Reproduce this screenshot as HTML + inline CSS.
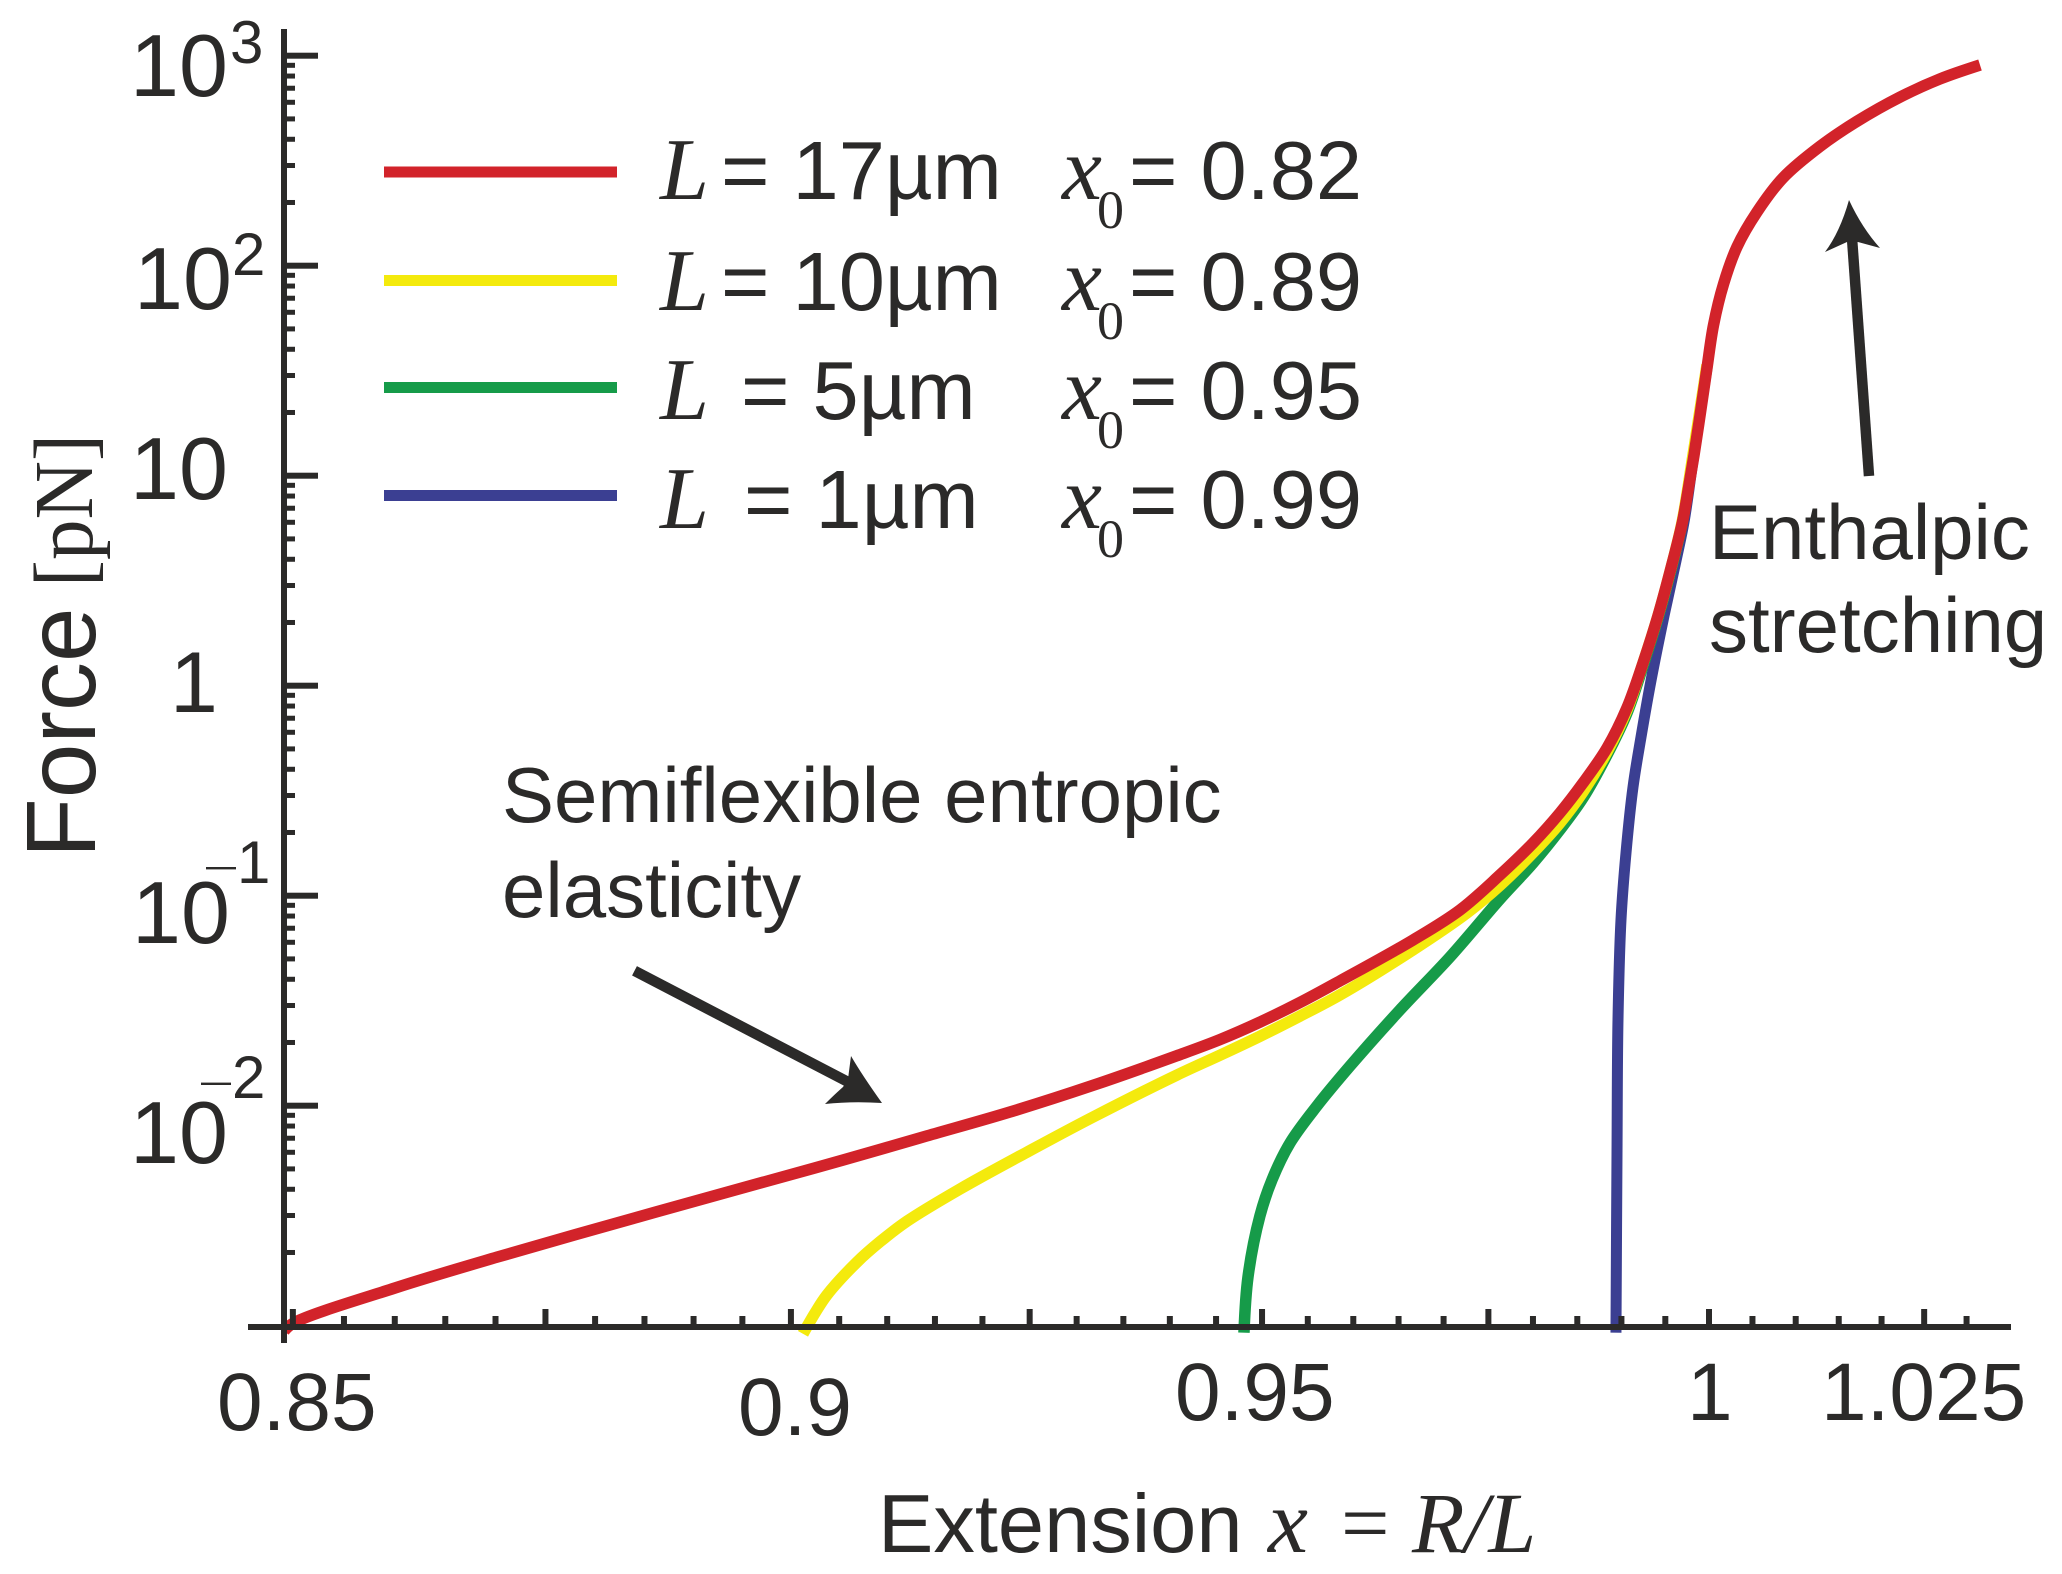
<!DOCTYPE html>
<html lang="en">
<head>
<meta charset="utf-8">
<title>Force versus extension</title>
<style>
html,body{margin:0;padding:0;background:#fff;}
svg{display:block;}
text{fill:#2b2a29;font-family:"Liberation Sans",sans-serif;}
.serif{font-family:"Liberation Serif",serif;}
.it{font-family:"Liberation Serif",serif;font-style:italic;}
</style>
</head>
<body>
<svg id="chart" xmlns="http://www.w3.org/2000/svg" width="2062" height="1574" viewBox="0 0 2062 1574">
  <rect x="0" y="0" width="2062" height="1574" fill="#ffffff"/>
  <g id="curves"></g>
  <g id="axes"></g>

  <g>
    <text x="130" y="96" font-size="88">10</text>
    <text x="230" y="63" font-size="60">3</text>
    <text x="134" y="309" font-size="88">10</text>
    <text x="232" y="275" font-size="60">2</text>
    <text x="130" y="499" font-size="88">10</text>
    <text x="170" y="712" font-size="86">1</text>
    <text x="132" y="943" font-size="88">10</text>
    <rect x="206" y="867" width="30" height="2.4" fill="#2b2a29"/>
    <text x="237" y="883" font-size="60">1</text>
    <text x="130" y="1163" font-size="88">10</text>
    <rect x="201" y="1082.6" width="30" height="2.4" fill="#2b2a29"/>
    <text x="232" y="1098" font-size="60">2</text>
  </g>

  <g>
    <text x="217" y="1430" font-size="82">0.85</text>
    <text x="738" y="1435" font-size="82">0.9</text>
    <text x="1175" y="1420" font-size="82">0.95</text>
    <text x="1687" y="1420" font-size="82">1</text>
    <text x="1821" y="1420" font-size="82">1.025</text>
  </g>

  <g>
    <text x="878" y="1552" font-size="83">Extension</text>
    <text class="it" x="1268" y="1552" font-size="90">x</text>
    <text class="serif" x="1341" y="1552" font-size="86">=</text>
    <text class="it" x="1412" y="1552" font-size="86">R/L</text>
  </g>

  <g>
    <text transform="translate(95,858) rotate(-90)" font-size="98">Force</text>
    <text class="serif" transform="translate(92,587) rotate(-90)" font-size="84" textLength="153" lengthAdjust="spacingAndGlyphs">[pN]</text>
  </g>

  <g>
    <rect x="384" y="166.5" width="233" height="11" fill="#d2232a"/>
    <rect x="384" y="275" width="233" height="11" fill="#f4ea0d"/>
    <rect x="384" y="382" width="233" height="11" fill="#169b49"/>
    <rect x="384" y="490" width="233" height="11" fill="#3b3f92"/>

    <text class="it" x="660" y="199" font-size="88">L</text>
    <text x="721" y="199" font-size="83">= 17µm</text>
    <text class="it" x="1062" y="199" font-size="90">x</text>
    <text class="serif" x="1097" y="228" font-size="54">0</text>
    <text x="1129" y="199" font-size="83">= 0.82</text>

    <text class="it" x="660" y="310" font-size="88">L</text>
    <text x="721" y="310" font-size="83">= 10µm</text>
    <text class="it" x="1062" y="310" font-size="90">x</text>
    <text class="serif" x="1097" y="339" font-size="54">0</text>
    <text x="1129" y="310" font-size="83">= 0.89</text>

    <text class="it" x="660" y="419" font-size="88">L</text>
    <text x="741" y="419" font-size="83">= 5µm</text>
    <text class="it" x="1062" y="419" font-size="90">x</text>
    <text class="serif" x="1097" y="448" font-size="54">0</text>
    <text x="1129" y="419" font-size="83">= 0.95</text>

    <text class="it" x="660" y="528" font-size="88">L</text>
    <text x="744" y="528" font-size="83">= 1µm</text>
    <text class="it" x="1062" y="528" font-size="90">x</text>
    <text class="serif" x="1097" y="557" font-size="54">0</text>
    <text x="1129" y="528" font-size="83">= 0.99</text>
  </g>

  <g>
    <text x="502" y="822" font-size="78">Semiflexible entropic</text>
    <text x="502" y="917" font-size="78">elasticity</text>
    <text x="1709" y="559" font-size="78">Enthalpic</text>
    <text x="1709" y="652" font-size="78">stretching</text>
    <g>
      <line x1="634.5" y1="970.8" x2="852" y2="1084" stroke="#2b2a29" stroke-width="10.5"/>
      <path d="M882 1103 Q862 1075 851 1056 L848 1079 L843 1087 Q835 1094 825 1104 Q852 1101 882 1103 Z" fill="#2b2a29"/>
    </g>
    <g>
      <line x1="1869" y1="476" x2="1852" y2="238" stroke="#2b2a29" stroke-width="10.5"/>
      <path d="M1849 200 Q1840 232 1825 252 L1847 242 L1858 242 L1880 248 Q1862 228 1849 200 Z" fill="#2b2a29"/>
    </g>
  </g>
</svg>

<script>
const xMajorTicks = [0.85, 0.875, 0.9, 0.925, 0.95, 0.975, 1, 1.025];
const xMinorTicks = [0.855, 0.86, 0.865, 0.87, 0.88, 0.885, 0.89, 0.895, 0.905, 0.91, 0.915, 0.92, 0.93, 0.935, 0.94, 0.945, 0.955, 0.96, 0.965, 0.97, 0.98, 0.985, 0.99, 0.995, 1.005, 1.01, 1.015, 1.02, 1.03];
const yMajorTicks = [1000, 100, 10, 1, 0.1, 0.01];
const yMinorTicks = [900, 800, 700, 600, 500, 400, 300, 200, 90, 80, 70, 60, 50, 40, 30, 20, 9, 8, 7, 6, 5, 4, 3, 2, 0.9, 0.8, 0.7, 0.6, 0.5, 0.4, 0.3, 0.2, 0.09, 0.08, 0.07, 0.06, 0.05, 0.04, 0.03, 0.02, 0.009, 0.008, 0.007, 0.006, 0.005, 0.004, 0.003, 0.002];

const blueExtension = [0.98938, 0.98950, 0.98961, 0.98995, 0.99052, 0.99132, 0.99223, 0.99337, 0.99485, 0.99622, 0.99714, 0.99805, 0.99880, 0.99966];
const blueForce = [0.00083, 0.00612, 0.0256, 0.0766, 0.160, 0.330, 0.570, 1.06, 2.15, 3.93, 6.03, 10.9, 17.7, 31.2];

const greenExtension = [0.94803, 0.94847, 0.94977, 0.95109, 0.95305, 0.95601, 0.95964, 0.96516, 0.97072, 0.97630, 0.98000, 0.98304, 0.98564, 0.98836, 0.99063, 0.99245, 0.99416, 0.99553, 0.99691, 0.99817, 0.99977];
const greenForce = [0.00083, 0.00153, 0.00299, 0.00444, 0.00664, 0.00998, 0.01545, 0.0286, 0.0511, 0.0964, 0.143, 0.206, 0.292, 0.468, 0.741, 1.24, 2.10, 3.40, 5.9, 12.3, 33];

const yellowExtension = [0.90125, 0.90249, 0.90373, 0.90685, 0.90925, 0.91208, 0.91763, 0.92472, 0.93175, 0.94077, 0.94543, 0.94977, 0.95414, 0.95854, 0.96660, 0.97261, 0.97630, 0.98000, 0.98304, 0.98564, 0.98836, 0.99063, 0.99245, 0.99416, 0.99553, 0.99691, 0.99817, 0.99977];
const yellowForce = [0.00082, 0.00103, 0.001256, 0.0018, 0.00225, 0.00282, 0.00401, 0.00601, 0.00883, 0.0140, 0.0174, 0.0214, 0.0267, 0.0337, 0.0552, 0.0828, 0.112, 0.160, 0.222, 0.312, 0.483, 0.766, 1.28, 2.15, 3.48, 6.0, 12.6, 33.7];

const redExtension = [0.84914, 0.85001, 0.86002, 0.87015, 0.88434, 0.89681, 0.90539, 0.91416, 0.92291, 0.93175, 0.94077, 0.94543, 0.94977, 0.95414, 0.95854, 0.96660, 0.97183, 0.97630, 0.98000, 0.98304, 0.98564, 0.98836, 0.99063, 0.99245, 0.99416, 0.99553, 0.99696, 0.99759, 0.99828, 0.99903, 0.99977, 1.00052, 1.00167, 1.00322, 1.00552, 1.00853, 1.01282, 1.01713, 1.02216, 1.02686, 1.03159];
const redForce = [0.000845, 0.00092, 0.001355, 0.0019, 0.00295, 0.00428, 0.00551, 0.00718, 0.00933, 0.0125, 0.0173, 0.02065, 0.0250, 0.0310, 0.0393, 0.0615, 0.0855, 0.1256, 0.178, 0.248, 0.344, 0.505, 0.785, 1.28, 2.15, 3.48, 6.03, 8.45, 12.5, 20.1, 32.6, 52.2, 81.8, 123, 180, 262, 370, 487, 635, 775, 903];

const NS = 'http://www.w3.org/2000/svg';
const X_AT_ONE = 1709;
const X_PER_LOG = 20064;
const Y_AT_THOUSAND = 55.7;
const Y_PER_DECADE = 210;
const AXIS_X = 284;
const AXIS_Y = 1327;
const INK = '#2b2a29';

function scaleX(v) {
  return X_AT_ONE + X_PER_LOG * Math.log10(v);
}
function scaleY(v) {
  return Y_AT_THOUSAND + (3 - Math.log10(v)) * Y_PER_DECADE;
}
function smoothPath(xs, ys) {
  const pts = xs.map(function (x, i) { return [scaleX(x), scaleY(ys[i])]; });
  function dist(a, b) {
    return Math.sqrt(Math.hypot(a[0] - b[0], a[1] - b[1]));
  }
  let d = 'M' + pts[0][0].toFixed(2) + ' ' + pts[0][1].toFixed(2);
  for (let i = 0; i < pts.length - 1; i++) {
    const p0 = pts[Math.max(i - 1, 0)];
    const p1 = pts[i];
    const p2 = pts[i + 1];
    const p3 = pts[Math.min(i + 2, pts.length - 1)];
    const d1 = dist(p0, p1);
    const d2 = dist(p1, p2);
    const d3 = dist(p2, p3);
    let c1 = p1;
    let c2 = p2;
    if (d1 > 0) {
      const k = 3 * d1 * (d1 + d2);
      const m = 2 * d1 * d1 + 3 * d1 * d2 + d2 * d2;
      c1 = [(d1 * d1 * p2[0] - d2 * d2 * p0[0] + m * p1[0]) / k, (d1 * d1 * p2[1] - d2 * d2 * p0[1] + m * p1[1]) / k];
    }
    if (d3 > 0) {
      const k = 3 * d3 * (d3 + d2);
      const m = 2 * d3 * d3 + 3 * d3 * d2 + d2 * d2;
      c2 = [(d3 * d3 * p1[0] - d2 * d2 * p3[0] + m * p2[0]) / k, (d3 * d3 * p1[1] - d2 * d2 * p3[1] + m * p2[1]) / k];
    }
    d += 'C' + c1[0].toFixed(2) + ' ' + c1[1].toFixed(2) + ' ' + c2[0].toFixed(2) + ' ' + c2[1].toFixed(2) + ' ' + p2[0].toFixed(2) + ' ' + p2[1].toFixed(2);
  }
  return d;
}
function addRect(parent, x, y, w, h) {
  const r = document.createElementNS(NS, 'rect');
  r.setAttribute('x', x);
  r.setAttribute('y', y);
  r.setAttribute('width', w);
  r.setAttribute('height', h);
  r.setAttribute('fill', INK);
  parent.appendChild(r);
  return r;
}
function addCurve(parent, xs, ys, color, width, name) {
  const p = document.createElementNS(NS, 'path');
  p.setAttribute('d', smoothPath(xs, ys));
  p.setAttribute('fill', 'none');
  p.setAttribute('stroke', color);
  p.setAttribute('stroke-width', width);
  p.setAttribute('stroke-linejoin', 'round');
  
  
  parent.appendChild(p);
}

const curvesGroup = document.getElementById('curves');
addCurve(curvesGroup, blueExtension, blueForce, '#3b3f92', 11, 'curve-1um');
addCurve(curvesGroup, greenExtension, greenForce, '#169b49', 11.5, 'curve-5um');
addCurve(curvesGroup, yellowExtension, yellowForce, '#f4ea0d', 11.5, 'curve-10um');
addCurve(curvesGroup, redExtension, redForce, '#d2232a', 11.5, 'curve-17um');

const axesGroup = document.getElementById('axes');
const xAxisLine = addRect(axesGroup, 248, AXIS_Y - 3, 1763, 6);


const yAxisLine = addRect(axesGroup, AXIS_X - 3, 29, 6, 1314);



xMajorTicks.forEach(function (v) {
  const t = addRect(axesGroup, scaleX(v) - 3, AXIS_Y - 18, 6, 18);
  
  
});
xMinorTicks.forEach(function (v) {
  const t = addRect(axesGroup, scaleX(v) - 3, AXIS_Y - 11, 6, 11);
  
  
});
yMajorTicks.forEach(function (v) {
  const t = addRect(axesGroup, AXIS_X, scaleY(v) - 3, 34, 6);
  
  
});
yMinorTicks.forEach(function (v) {
  const t = addRect(axesGroup, AXIS_X, scaleY(v) - 2.5, 11, 5);
  
  
});
</script>
</body>
</html>
